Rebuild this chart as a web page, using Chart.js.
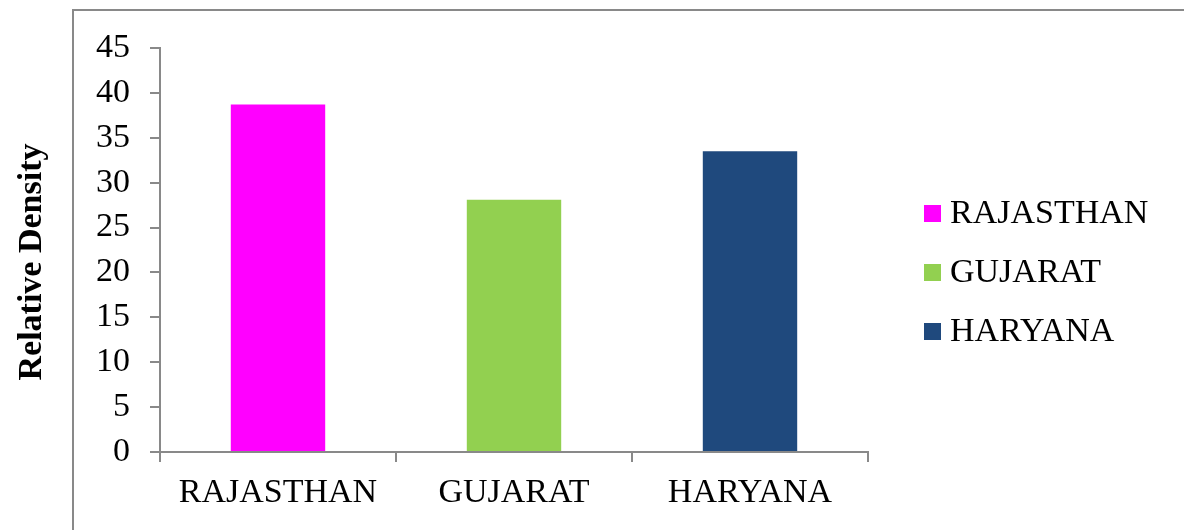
<!DOCTYPE html>
<html>
<head>
<meta charset="utf-8">
<script src="https://cdn.jsdelivr.net/npm/chart.js@4.4.1/dist/chart.umd.min.js"></script>
<style>
  html, body { margin: 0; padding: 0; background: #fff; }
  #wrap { width: 1184px; height: 530px; }
</style>
</head>
<body>
<div id="wrap"><canvas id="graficoDensidade" width="1184" height="530"></canvas></div>
<script>
const estados = ["RAJASTHAN", "GUJARAT", "HARYANA"];
const densidade = [38.7, 28.1, 33.5];
const cores = ["#FF00FF", "#92D050", "#1F497D"];
const ticksY = [0, 5, 10, 15, 20, 25, 30, 35, 40, 45];
const tituloY = "Relative Density";

const fonte = "'Liberation Serif', 'Times New Roman', serif";
const cinza = "#898989";

// moldura cinza, titulo do eixo y e legenda desenhados a mao
const molduraELegenda = {
  id: "molduraELegenda",
  beforeDraw(chart) {
    const ctx = chart.ctx;
    ctx.save();
    ctx.strokeStyle = cinza;
    ctx.lineWidth = 2;
    ctx.beginPath();
    ctx.moveTo(73, 530);
    ctx.lineTo(73, 10);
    ctx.lineTo(1184, 10);
    ctx.stroke();
    ctx.restore();
  },
  afterDraw(chart) {
    const ctx = chart.ctx;
    ctx.save();
    ctx.translate(32, 262);
    ctx.rotate(-Math.PI / 2);
    ctx.font = "bold 34px " + fonte;
    ctx.fillStyle = "#000";
    ctx.textAlign = "center";
    ctx.textBaseline = "middle";
    ctx.fillText(tituloY, 0, 0);
    ctx.restore();

    ctx.save();
    ctx.font = "34px " + fonte;
    ctx.textBaseline = "middle";
    ctx.textAlign = "left";
    estados.forEach((nome, i) => {
      const y = 213 + i * 59;
      ctx.fillStyle = cores[i];
      ctx.fillRect(924, y - 8, 17, 17);
      ctx.fillStyle = "#000";
      ctx.fillText(nome, 950, y + 1);
    });
    ctx.restore();
  },
};

const graficoDensidade = new Chart(document.getElementById("graficoDensidade"), {
  type: "bar",
  data: {
    labels: estados,
    datasets: [
      {
        label: tituloY,
        data: densidade,
        backgroundColor: cores,
        borderWidth: 0,
        barPercentage: 0.4,
        categoryPercentage: 1,
      },
    ],
  },
  options: {
    responsive: false,
    animation: false,
    layout: { padding: { left: 0, top: 48, right: 316, bottom: 0 } },
    plugins: {
      legend: { display: false },
      tooltip: { enabled: false },
    },
    scales: {
      x: {
        grid: {
          drawOnChartArea: false,
          drawTicks: true,
          tickLength: 10,
          color: cinza,
          lineWidth: 2,
          offset: true,
        },
        border: { display: true, color: cinza, width: 2 },
        ticks: {
          color: "#000",
          font: { family: fonte, size: 34 },
          padding: 11,
          maxRotation: 0,
        },
        afterFit(scale) {
          scale.height = 78;
        },
      },
      y: {
        min: 0,
        max: 45,
        afterBuildTicks(scale) {
          scale.ticks = ticksY.map((v) => ({ value: v }));
        },
        grid: {
          drawOnChartArea: false,
          drawTicks: true,
          tickLength: 10,
          color: cinza,
          lineWidth: 2,
        },
        border: { display: true, color: cinza, width: 2 },
        ticks: {
          color: "#000",
          font: { family: fonte, size: 34 },
          padding: 20,
        },
        afterFit(scale) {
          scale.width = 160;
        },
      },
    },
  },
  plugins: [molduraELegenda],
});
</script>
</body>
</html>
